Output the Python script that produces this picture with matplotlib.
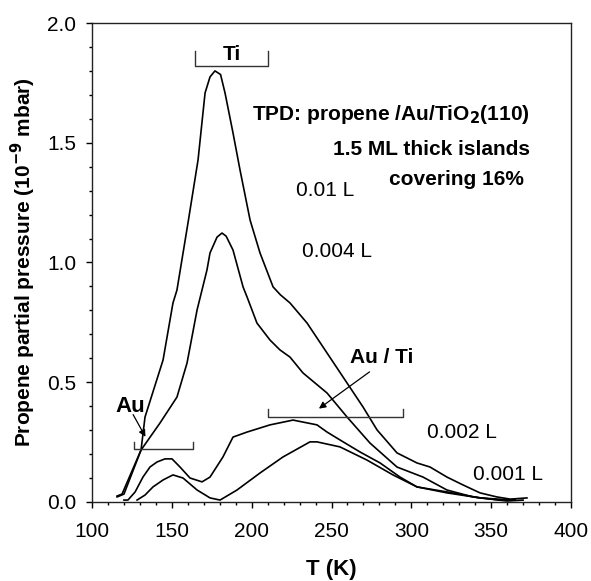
import matplotlib
matplotlib.use("Agg")
import matplotlib.pyplot as plt
from matplotlib.ticker import MultipleLocator, FormatStrFormatter

plt.rcParams["font.family"] = ["Liberation Sans", "DejaVu Sans"]

# TPD traces, temperature (K) vs propene partial pressure (1e-9 mbar)
t_001 = [115.7, 118.8, 130.7, 133.2, 144.5, 150.7, 153.2, 160.1, 166.4, 170.8, 173.9, 177.0,
         180.5, 183.3, 188.3, 192.7, 199.0, 205.2, 213.4, 218.0, 224.0, 234.7, 247.2, 257.2,
         269.7, 278.5, 291.0, 303.5, 311.7, 322.3, 332.4, 343.0, 353.6, 362.0, 372.4]
p_001 = [0.025, 0.033, 0.217, 0.355, 0.593, 0.831, 0.885, 1.165, 1.428, 1.708, 1.775, 1.800,
         1.785, 1.708, 1.541, 1.386, 1.177, 1.040, 0.898, 0.865, 0.831, 0.747, 0.622, 0.522,
         0.397, 0.301, 0.205, 0.163, 0.146, 0.104, 0.071, 0.038, 0.021, 0.012, 0.017]

t_0004 = [115.7, 120.0, 130.7, 142.6, 153.2, 159.5, 165.8, 172.0, 173.9, 178.3, 181.4, 184.0,
          188.3, 194.6, 197.1, 203.3, 211.5, 217.7, 224.0, 232.1, 247.2, 259.7, 274.1, 291.0,
          307.3, 322.3, 338.6, 355.5, 365.0]
p_0004 = [0.021, 0.033, 0.217, 0.330, 0.438, 0.580, 0.802, 0.969, 1.040, 1.106, 1.123, 1.110,
          1.052, 0.898, 0.856, 0.747, 0.676, 0.635, 0.605, 0.539, 0.455, 0.355, 0.246, 0.146,
          0.104, 0.050, 0.021, 0.008, 0.010]

t_0002 = [120.0, 122.5, 127.0, 131.9, 136.3, 140.7, 145.7, 150.1, 155.1, 161.4, 168.9, 173.9,
          182.0, 188.3, 197.1, 211.5, 225.9, 240.9, 247.2, 255.3, 267.8, 280.4, 292.9, 303.5,
          322.3, 343.0, 363.7]
p_0002 = [0.008, 0.008, 0.042, 0.104, 0.146, 0.167, 0.180, 0.180, 0.146, 0.100, 0.084, 0.104,
          0.188, 0.271, 0.292, 0.322, 0.342, 0.322, 0.292, 0.259, 0.209, 0.163, 0.104, 0.063,
          0.042, 0.017, 0.008]

t_0001 = [128.2, 133.2, 138.2, 144.5, 150.7, 157.0, 165.8, 173.9, 180.2, 190.8, 205.2, 219.6,
          236.5, 240.9, 255.3, 272.2, 288.5, 303.5, 322.3, 343.0, 360.0, 370.0]
p_0001 = [0.008, 0.029, 0.063, 0.092, 0.113, 0.100, 0.050, 0.017, 0.008, 0.050, 0.121, 0.188,
          0.251, 0.251, 0.230, 0.175, 0.113, 0.063, 0.038, 0.017, 0.004, 0.008]

dose_labels = ["0.01 L", "0.004 L", "0.002 L", "0.001 L"]
dose_label_t = [246.0, 253.4, 331.7, 360.5]
dose_label_p = [1.30, 1.044, 0.292, 0.113]

fig = plt.figure(figsize=(5.91, 5.81), dpi=100)
ax = fig.add_axes([0.1557, 0.136, 0.8105, 0.8244])

for t, p in [(t_001, p_001), (t_0004, p_0004), (t_0002, p_0002), (t_0001, p_0001)]:
    ax.plot(t, p, color="black", lw=1.2)

for lab, x, y in zip(dose_labels, dose_label_t, dose_label_p):
    ax.text(x, y, lab, fontsize=15, ha="center", va="center")

# site brackets
def bracket(x0, x1, y, h):
    ax.plot([x0, x0, x1, x1], [y + h, y, y, y + h], color="#333333", lw=1.0)

bracket(164.5, 210.3, 1.82, 0.065)
ax.text(187.4, 1.87, "Ti", fontsize=15, fontweight="bold", ha="center", va="center")
bracket(126.3, 163.2, 0.221, 0.03)
bracket(210.0, 295.0, 0.355, 0.033)

ax.text(124.0, 0.40, "Au", fontsize=16, fontweight="bold", ha="center", va="center")
ax.annotate("", xy=(134.3, 0.262), xytext=(124.9, 0.375),
            arrowprops=dict(arrowstyle="-|>", color="black", lw=0.9, mutation_scale=10))
ax.text(281.6, 0.605, "Au / Ti", fontsize=15, fontweight="bold", ha="center", va="center")
ax.annotate("", xy=(240.7, 0.383), xytext=(275.2, 0.55),
            arrowprops=dict(arrowstyle="-|>", color="black", lw=0.9, mutation_scale=10))

ax.text(374.3, 1.616, "TPD: propene /Au/TiO$_\\mathbf{2}$(110)", fontsize=15,
        fontweight="bold", ha="right", va="center")
ax.text(374.3, 1.47, "1.5 ML thick islands", fontsize=15, fontweight="bold",
        ha="right", va="center")
ax.text(370.5, 1.345, "covering 16%", fontsize=15, fontweight="bold",
        ha="right", va="center")

ax.set_xlim(100, 400)
ax.set_ylim(0, 2.0)
ax.xaxis.set_major_locator(MultipleLocator(50))
ax.xaxis.set_minor_locator(MultipleLocator(10))
ax.yaxis.set_major_locator(MultipleLocator(0.5))
ax.yaxis.set_minor_locator(MultipleLocator(0.1))
ax.yaxis.set_major_formatter(FormatStrFormatter("%.1f"))
ax.tick_params(which="major", length=4.5, width=1, labelsize=15, direction="out", pad=7)
ax.tick_params(axis="x", which="major", pad=10)
ax.tick_params(which="minor", length=2.5, width=1, direction="out")
for s in ax.spines.values():
    s.set_linewidth(1.0)
    s.set_color("#222222")

ax.set_xlabel("T (K)", fontsize=16, fontweight="bold", labelpad=13)
ax.set_ylabel("Propene partial pressure (10$^{\\mathbf{-9}}$ mbar)", fontsize=15,
              fontweight="bold", labelpad=6)

fig.savefig("out.png", dpi=100)
